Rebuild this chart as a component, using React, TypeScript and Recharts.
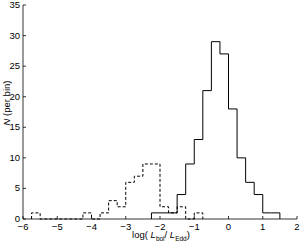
import { LineChart, Line, XAxis, YAxis, Label } from 'recharts'

// bin width and left edges of both histograms (log Lbol/LEdd)
const BIN_WIDTH = 0.25
const SOLID_START = -2.25
const DASHED_START = -5.75

// counts per bin
const solidCounts = [1, 1, 1, 4, 9, 13, 21, 29, 27, 18, 10, 6, 4, 1, 1]
const dashedCounts = [1, 0, 0, 0, 0, 0, 1, 0, 1, 3, 2, 6, 7, 9, 9, 2, 1, 2, 0, 1]

const xTicks = [-6, -5, -4, -3, -2, -1, 0, 1, 2]
const yTicks = [0, 5, 10, 15, 20, 25, 30, 35]

const FONT = '"Liberation Sans", Arial, Helvetica, sans-serif'

// turn bin counts into points for a stepAfter line, closed down to 0 at both ends
function toSteps(start: number, counts: number[]) {
  const pts = [{ x: start, n: 0 }]
  counts.forEach((c, i) => pts.push({ x: start + i * BIN_WIDTH, n: c }))
  pts.push({ x: start + counts.length * BIN_WIDTH, n: 0 })
  return pts
}

const solidData = toSteps(SOLID_START, solidCounts)
const dashedData = toSteps(DASHED_START, dashedCounts)

const fmt = (v: number) => (v < 0 ? '\u2212' + Math.abs(v) : String(v))

// matlab style: ticks point into the plot box
function BottomTick({ x, y, payload }: any) {
  return (
    <g>
      <line x1={x} x2={x} y1={y} y2={y - 3} stroke="#000" strokeWidth={0.8} />
      <text x={x} y={y + 10.5} textAnchor="middle" fontSize={9.5} fontFamily={FONT} fill="#000">
        {fmt(payload.value)}
      </text>
    </g>
  )
}

function TopTick({ x, y }: any) {
  return <line x1={x} x2={x} y1={y} y2={y + 3} stroke="#000" strokeWidth={0.8} />
}

function LeftTick({ x, y, payload }: any) {
  return (
    <g>
      <line x1={x} x2={x + 3} y1={y} y2={y} stroke="#000" strokeWidth={0.8} />
      <text x={x - 3} y={y} dy={3} textAnchor="end" fontSize={9.5} fontFamily={FONT} fill="#000">
        {fmt(payload.value)}
      </text>
    </g>
  )
}

function RightTick({ x, y }: any) {
  return <line x1={x} x2={x - 3} y1={y} y2={y} stroke="#000" strokeWidth={0.8} />
}

function XTitle() {
  return (
    <text x={161} y={238} textAnchor="middle" fontSize={9.5} fontFamily={FONT} fill="#000">
      <tspan>log( </tspan>
      <tspan fontStyle="italic">L</tspan>
      <tspan fontSize={6.5} dy={2.5}>bol</tspan>
      <tspan dy={-2.5}>/ </tspan>
      <tspan fontStyle="italic">L</tspan>
      <tspan fontSize={6.5} dy={2.5}>Edd</tspan>
      <tspan dy={-2.5}>)</tspan>
    </text>
  )
}

function YTitle() {
  return (
    <text
      x={9.5}
      y={103}
      transform="rotate(-90 9.5 103)"
      textAnchor="middle"
      fontSize={9.5}
      fontFamily={FONT}
      fill="#000"
    >
      <tspan fontStyle="italic">N</tspan>
      <tspan> (per bin)</tspan>
    </text>
  )
}

export default function App() {
  return (
    <div style={{ width: 300, height: 244, background: '#fff' }}>
      <style>{'body{margin:0}'}</style>
      <LineChart width={300} height={244} margin={{ top: 5, right: 3, bottom: 0, left: 0 }}>
        <XAxis
          dataKey="x"
          type="number"
          domain={[-6, 2]}
          ticks={xTicks}
          interval={0}
          allowDataOverflow
          height={25}
          tickSize={0}
          tickMargin={0}
          tickLine={false}
          tick={<BottomTick />}
          axisLine={{ stroke: '#000', strokeWidth: 0.8 }}
        >
          <Label content={<XTitle />} />
        </XAxis>
        <XAxis
          xAxisId="top"
          orientation="top"
          dataKey="x"
          type="number"
          domain={[-6, 2]}
          ticks={xTicks}
          interval={0}
          height={0}
          tickSize={0}
          tickMargin={0}
          tickLine={false}
          tick={<TopTick />}
          axisLine={{ stroke: '#000', strokeWidth: 0.8 }}
        />
        <YAxis
          type="number"
          domain={[0, 35]}
          ticks={yTicks}
          interval={0}
          width={23}
          tickSize={0}
          tickMargin={0}
          tickLine={false}
          tick={<LeftTick />}
          axisLine={{ stroke: '#000', strokeWidth: 0.8 }}
        >
          <Label content={<YTitle />} />
        </YAxis>
        <YAxis
          yAxisId="right"
          orientation="right"
          type="number"
          domain={[0, 35]}
          ticks={yTicks}
          interval={0}
          width={0}
          tickSize={0}
          tickMargin={0}
          tickLine={false}
          tick={<RightTick />}
          axisLine={{ stroke: '#000', strokeWidth: 0.8 }}
        />
        <Line
          data={dashedData}
          dataKey="n"
          type="stepAfter"
          stroke="#000"
          strokeWidth={1}
          strokeDasharray="3 2"
          dot={false}
          activeDot={false}
          isAnimationActive={false}
        />
        <Line
          data={solidData}
          dataKey="n"
          type="stepAfter"
          stroke="#000"
          strokeWidth={1}
          dot={false}
          activeDot={false}
          isAnimationActive={false}
        />
      </LineChart>
    </div>
  )
}
